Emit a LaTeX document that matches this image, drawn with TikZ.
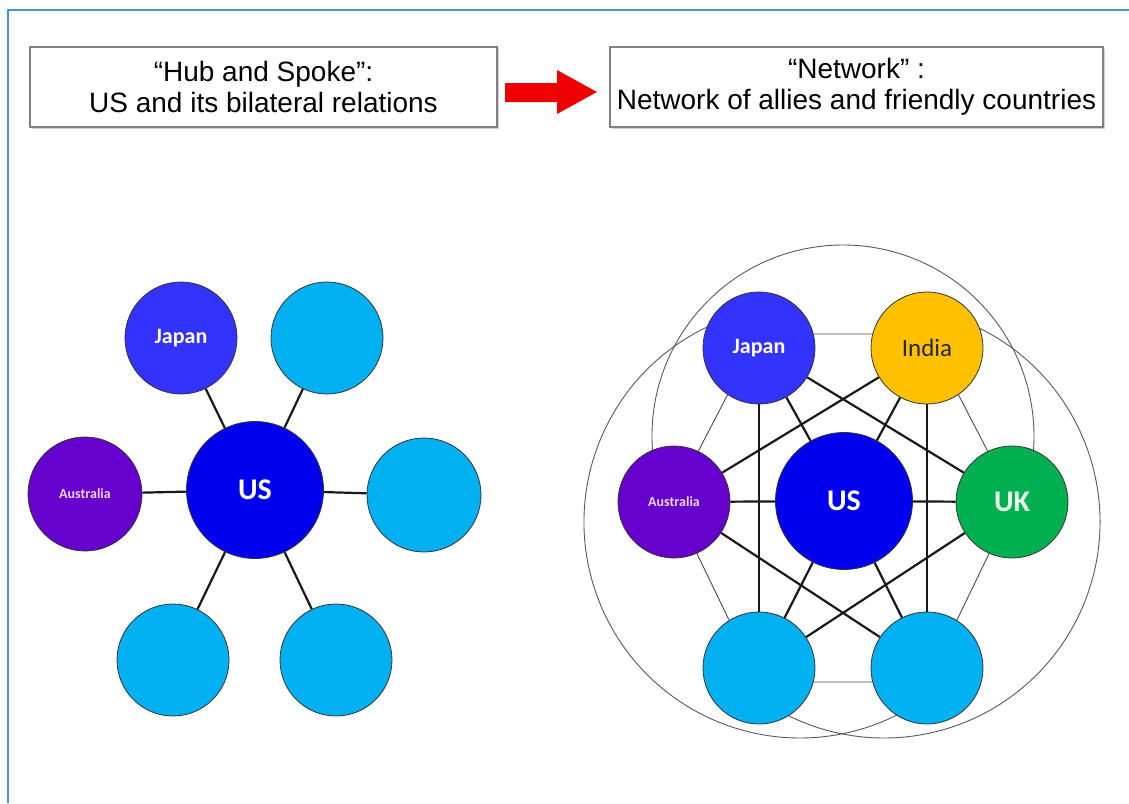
\documentclass[tikz,border=0pt]{standalone}
\usepackage{fontspec}
\setmainfont{Liberation Sans}
\newfontfamily\calfont{Carlito}
\usetikzlibrary{backgrounds,shadows}
\definecolor{frameblue}{RGB}{74,144,226}
\definecolor{japanblue}{RGB}{51,51,255}
\definecolor{usblue}{RGB}{0,0,238}
\definecolor{auspurple}{RGB}{102,0,204}
\definecolor{indiagold}{RGB}{255,192,0}
\definecolor{ukgreen}{RGB}{0,176,80}
\definecolor{spokeblue}{RGB}{0,176,240}
\definecolor{auslabel}{RGB}{238,215,255}
\definecolor{arrowred}{RGB}{240,0,0}
\begin{document}
\begin{tikzpicture}[x=1pt,y=-1pt,
  hdrbox/.style={draw=black!50, line width=1.4pt, fill=white, inner sep=0pt,
    minimum height=80pt, align=center, font=\fontsize{28}{31}\selectfont,
    drop shadow={shadow xshift=2pt, shadow yshift=-2pt, fill=black!30, opacity=0.6}},
  country/.style={circle, draw=black!80, line width=0.8pt, inner sep=0pt,
    minimum size=112pt, text=white, font=\calfont\bfseries\fontsize{22}{26}\selectfont},
  hub/.style={country, fill=usblue, minimum size=137pt, font=\calfont\bfseries\fontsize{30}{34}\selectfont},
  other/.style={country, fill=spokeblue},
  japanstyle/.style={country, fill=japanblue},
  ausstyle/.style={country, fill=auspurple, text=auslabel, font=\calfont\bfseries\fontsize{14}{16}\selectfont},
  tie/.style={line width=2.2pt, black!90},
  thinlink/.style={line width=0.9pt, black!70},
  ring/.style={line width=0.9pt, black!65}]

\useasboundingbox (0,0) rectangle (1129,803);

% frame
\draw[frameblue, line width=1.5pt] (8,803) -- (8,10) -- (1129,10);

% header
\node[hdrbox, minimum width=467pt] (hubbox) at (263.5,87) {“Hub and Spoke”:\\US and its bilateral relations};
\node[hdrbox, minimum width=493pt] (netbox) at (856.5,87) {“Network” :\\Network of allies and friendly countries};
\fill[arrowred] (505,83) -- (557,83) -- (557,70) -- (597,92) -- (557,114) -- (557,102) -- (505,102) -- cycle;

% left: hub and spoke
\node[hub] (LUS) at (255,490) {US};
\node[japanstyle] (LJP) at (181,338) {Japan};
\node[other] (LN1) at (327,338) {};
\node[ausstyle, minimum size=114pt] (LAU) at (85,494) {Australia};
\node[other, minimum size=114pt] (LN2) at (424,495) {};
\node[other] (LN3) at (173,660) {};
\node[other] (LN4) at (336,660) {};
\foreach \n in {LJP,LN1,LAU,LN2,LN3,LN4} \draw[tie] (LUS) -- (\n);

% right: network
\node[hub] (RUS) at (844,501) {US};
\node[japanstyle] (RJP) at (759,348) {Japan};
\node[country, fill=indiagold, text=black!85, font=\calfont\fontsize{25}{28}\selectfont] (RIN) at (927,348) {India};
\node[ausstyle] (RAU) at (674,502) {Australia};
\node[country, fill=ukgreen, text=white!92!green, font=\calfont\bfseries\fontsize{30}{34}\selectfont] (RUK) at (1012,502) {UK};
\node[other] (RBL) at (759,668) {};
\node[other] (RBR) at (927,668) {};

\foreach \n in {RJP,RIN,RAU,RUK,RBL,RBR} \draw[tie] (RUS) -- (\n);
\draw[tie] (RJP) -- (RBL);
\draw[tie] (RIN) -- (RBR);
\draw[tie] (RJP) -- (RUK);
\draw[tie] (RIN) -- (RAU);
\draw[tie] (RAU) -- (RBR);
\draw[tie] (RUK) -- (RBL);

\coordinate (hJ) at (759,334);
\coordinate (hI) at (927,334);
\coordinate (hU) at (1014,502);
\coordinate (hBR) at (927,682);
\coordinate (hBL) at (759,682);
\coordinate (hA) at (672,502);

\begin{scope}[on background layer]
  \fill[white] (0,0) rectangle (1129,803);
  \draw[ring] (843,436) ++(187:191pt) arc[start angle=187, end angle=-7, radius=191pt];
  \draw[ring] (800,522) ++(112:216pt) arc[start angle=112, end angle=300, radius=216pt];
  \draw[ring] (884,522) ++(68:216pt) arc[start angle=68, end angle=-120, radius=216pt];
  \draw[thinlink] (hJ) -- (hI) -- (hU) -- (hBR) -- (hBL) -- (hA) -- cycle;
\end{scope}
\end{tikzpicture}
\end{document}
